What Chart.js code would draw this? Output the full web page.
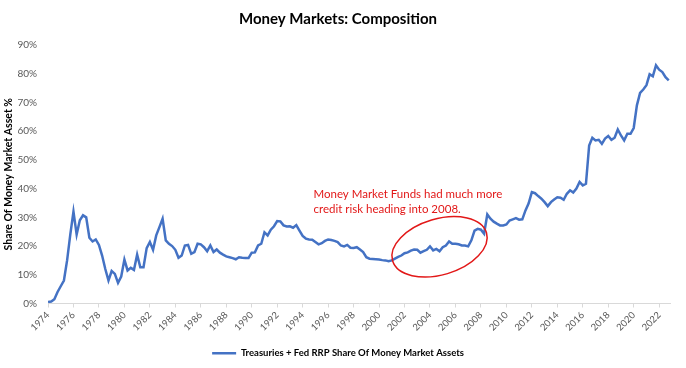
<!DOCTYPE html>
<html>
<head>
<meta charset="utf-8">
<title>Money Markets: Composition</title>
<script src="https://cdn.jsdelivr.net/npm/chart.js@4.4.1/dist/chart.umd.min.js"></script>
<style>
    html, body { margin: 0; padding: 0; background: #fff; }
    #caixa { width: 686px; height: 368px; }
</style>
</head>
<body>
<div id="caixa"><canvas id="gfc_composicao"></canvas></div>
<script>
// ANOS (CADA LINHA DE share TEM OS 4 TRIMESTRES DO ANO)
var years = [1974, 1975, 1976, 1977, 1978, 1979, 1980, 1981, 1982, 1983,
    1984, 1985, 1986, 1987, 1988, 1989, 1990, 1991, 1992, 1993,
    1994, 1995, 1996, 1997, 1998, 1999, 2000, 2001, 2002, 2003,
    2004, 2005, 2006, 2007, 2008, 2009, 2010, 2011, 2012, 2013,
    2014, 2015, 2016, 2017, 2018, 2019, 2020, 2021, 2022];
// TREASURIES + FED RRP, % DOS ATIVOS DOS MONEY MARKETS (Q1..Q4)
var share = [
    0.5, 0.7, 1.5, 4.0,      // 1974
    6.0, 8.0, 15.0, 24.0,    // 1975
    32.0, 24.0, 29.0, 30.7,  // 1976
    30.0, 22.9, 21.6, 22.3,  // 1977
    20.4, 16.7, 12.0, 8.0,   // 1978
    11.3, 10.3, 7.2, 9.4,    // 1979
    15.3, 11.5, 12.4, 11.7,  // 1980
    17.0, 12.6, 12.6, 19.3,  // 1981
    21.4, 18.7, 23.7, 26.6,  // 1982
    29.5, 22.0, 20.8, 20.0,  // 1983
    18.7, 15.9, 16.7, 20.2,  // 1984
    20.4, 17.3, 17.9, 20.8,  // 1985
    20.6, 19.6, 18.2, 20.2,  // 1986
    17.9, 18.8, 17.7, 17.0,  // 1987
    16.4, 16.1, 15.8, 15.4,  // 1988
    16.1, 15.9, 15.8, 15.8,  // 1989
    17.7, 17.8, 20.2, 20.8,  // 1990
    24.8, 23.7, 25.7, 26.9,  // 1991
    28.7, 28.6, 27.2, 26.8,  // 1992
    26.9, 26.4, 27.3, 25.4,  // 1993
    23.5, 22.6, 22.3, 22.2,  // 1994
    21.4, 20.6, 21.0, 21.8,  // 1995
    22.3, 22.1, 21.8, 21.4,  // 1996
    20.2, 19.9, 20.4, 19.4,  // 1997
    19.3, 19.6, 18.8, 17.9,  // 1998
    16.1, 15.6, 15.5, 15.4,  // 1999
    15.3, 15.1, 15.0, 14.7,  // 2000
    15.0, 15.6, 16.2, 16.7,  // 2001
    17.5, 17.8, 18.4, 18.8,  // 2002
    18.7, 17.7, 18.2, 18.7,  // 2003
    19.9, 18.5, 19.0, 18.2,  // 2004
    19.6, 20.2, 21.6, 20.8,  // 2005
    20.8, 20.6, 20.2, 20.2,  // 2006
    19.9, 22.0, 25.4, 26.0,  // 2007
    25.7, 24.3, 31.0, 29.5,  // 2008
    28.5, 27.8, 27.2, 27.2,  // 2009
    27.5, 28.9, 29.3, 29.7,  // 2010
    29.2, 29.3, 32.4, 34.9,  // 2011
    38.8, 38.4, 37.4, 36.5,  // 2012
    35.3, 33.9, 35.3, 36.2,  // 2013
    37.0, 36.8, 36.1, 38.2,  // 2014
    39.4, 38.6, 40.0, 42.3,  // 2015
    41.1, 41.7, 55.0, 57.7,  // 2016
    56.8, 57.0, 55.6, 57.4,  // 2017
    58.3, 57.0, 57.7, 60.6,  // 2018
    58.5, 56.8, 59.1, 59.1,  // 2019
    61.1, 69.0, 73.3, 74.5,  // 2020
    76.0, 79.8, 79.1, 82.9,  // 2021
    81.4, 80.6, 78.8, 77.7   // 2022
];
// ROTULOS DO EIXO X
var tickYears = [1974, 1976, 1978, 1980, 1982, 1984, 1986, 1988, 1990, 1992,
    1994, 1996, 1998, 2000, 2002, 2004, 2006, 2008, 2010, 2012,
    2014, 2016, 2018, 2020, 2022];
// TEXTO DA ANOTACAO E ONDE ELA FICA (EM ANO / %)
var notaTexto = ['Money Market Funds had much more', 'credit risk heading into 2008.'];
var notaPos = [1994.85, 38];
var circuloCentro = [2004.75, 19.75];

var fonte = 'Lato';
var azul = '#4472C4';
var vermelho = '#e21818';

// MONTA OS PONTOS (ANO + TRIMESTRE)
var pontos = share.map(function (v, i) {
    return { x: years[Math.floor(i / 4)] + (i % 4) * 0.25, y: v };
});

//PLUGIN DA ANOTACAO (TEXTO + ELIPSE)
var anotacao = {
    id: 'anotacao',
    afterDatasetsDraw: function (chart) {
        var ctx = chart.ctx;
        var x = chart.scales.x;
        var y = chart.scales.y;
        ctx.save();
        ctx.strokeStyle = vermelho;
        ctx.lineWidth = 1.5;
        ctx.beginPath();
        ctx.ellipse(x.getPixelForValue(circuloCentro[0]), y.getPixelForValue(circuloCentro[1]),
            49, 28, -16.6 * Math.PI / 180, 0, 2 * Math.PI);
        ctx.stroke();
        ctx.fillStyle = vermelho;
        ctx.font = '11.5px ' + fonte;
        ctx.textAlign = 'left';
        ctx.textBaseline = 'middle';
        var px = x.getPixelForValue(notaPos[0]);
        var py = y.getPixelForValue(notaPos[1]);
        notaTexto.forEach(function (linha, i) {
            ctx.fillText(linha, px, py + i * 15);
        });
        ctx.restore();
    }
};

var ctx = document.getElementById('gfc_composicao').getContext('2d');
var myChart = new Chart(ctx, {
    type: 'line',
    data: {
        datasets: [
            {
                label: 'Treasuries + Fed RRP Share Of Money Market Assets',
                data: pontos,
                borderColor: azul,
                backgroundColor: azul,
                borderWidth: 2.5,
                pointRadius: 0,
                tension: 0,
                pointStyle: 'line'
            }
        ]
    },
    options: {
        responsive: true,
        maintainAspectRatio: false,
        animation: false,
        layout: { padding: { left: 0, right: 10, top: 0, bottom: 0 } },
        plugins: {
            title: {
                display: true,
                text: 'Money Markets: Composition',
                color: '#000',
                font: { family: fonte, size: 15, weight: 'bold' },
                padding: { top: 10, bottom: 17 }
            },
            legend: {
                position: 'bottom',
                labels: {
                    usePointStyle: true,
                    pointStyleWidth: 24,
                    boxHeight: 10,
                    padding: 10,
                    color: '#000',
                    font: { family: fonte, size: 9.5, weight: 'bold' }
                }
            },
            tooltip: { enabled: false }
        },
        scales: {
            x: {
                type: 'linear',
                min: 1974,
                max: 2022.85,
                afterBuildTicks: function (scale) {
                    scale.ticks = tickYears.map(function (v) { return { value: v }; });
                },
                afterFit: function (scale) { scale.height = 35; },
                grid: { display: true, drawOnChartArea: false, drawTicks: true, tickLength: 4, color: '#d9d9d9' },
                border: { display: true, color: '#d9d9d9' },
                ticks: {
                    autoSkip: false,
                    minRotation: 45,
                    maxRotation: 45,
                    padding: 2,
                    color: '#595959',
                    font: { family: fonte, size: 9.5 },
                    callback: function (v) { return String(v); }
                }
            },
            y: {
                min: 0,
                max: 90,
                afterFit: function (scale) { scale.width = 48; },
                grid: { display: false, drawTicks: false },
                border: { display: false },
                ticks: {
                    stepSize: 10,
                    padding: 11,
                    color: '#595959',
                    font: { family: fonte, size: 10 },
                    callback: function (v) { return v + '%'; }
                },
                title: {
                    display: true,
                    text: 'Share Of Money Market Asset %',
                    color: '#000',
                    font: { family: fonte, size: 10.5, weight: 'bold' },
                    padding: { top: 2, bottom: 2 }
                }
            },
            y2: {
                position: 'right',
                afterFit: function (scale) { scale.width = 6; },
                grid: { display: false, drawTicks: false },
                border: { display: false },
                ticks: { display: false }
            }
        }
    },
    plugins: [anotacao]
});
</script>
</body>
</html>
